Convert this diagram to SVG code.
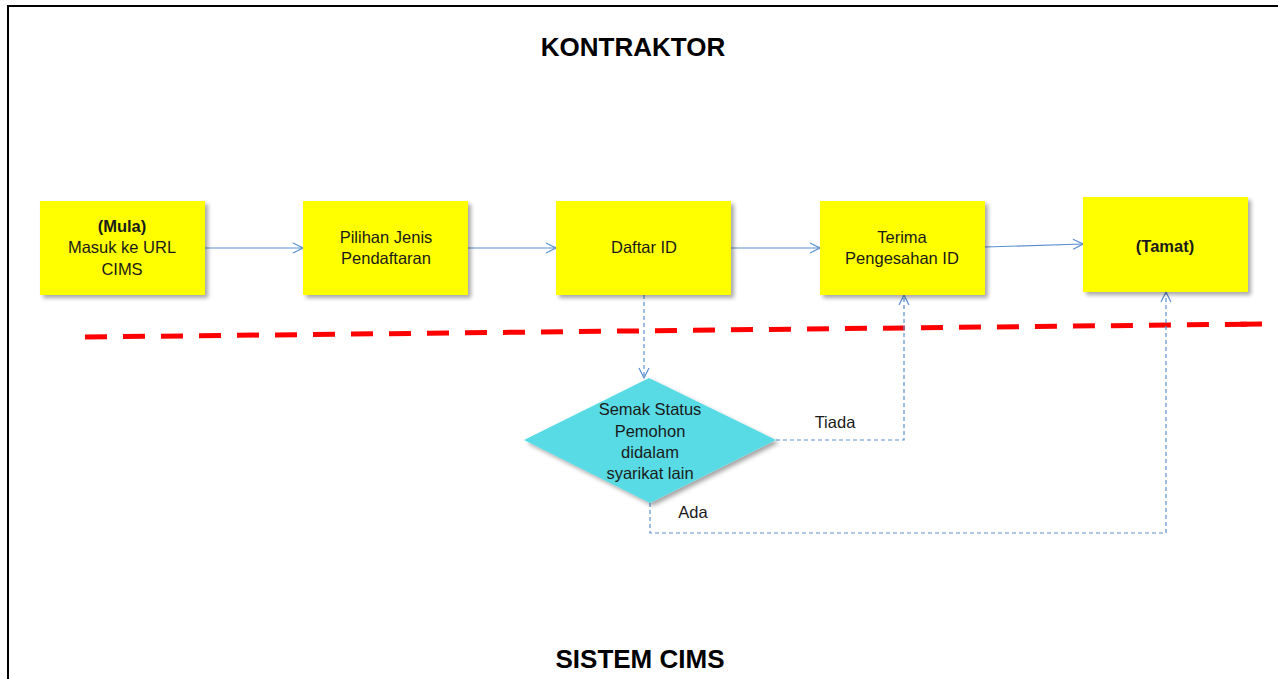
<svg xmlns="http://www.w3.org/2000/svg" width="1278" height="679" viewBox="0 0 1278 679">
<style>
.box{fill:#ffff00;}
.t{font-family:"Liberation Sans",Arial,sans-serif;font-size:16.5px;fill:#1a1a1a;text-anchor:middle;}
.b{font-weight:bold;}
.title{font-family:"Liberation Sans",Arial,sans-serif;font-size:26px;font-weight:bold;fill:#000;text-anchor:middle;}
.solid{fill:none;stroke:#5b8fd0;stroke-width:1.2;}
.dash{fill:none;stroke:#5b8fd0;stroke-width:1.2;stroke-dasharray:4,3;}
</style>
<defs>
<marker id="ah" viewBox="0 0 12 12" refX="11" refY="6" markerWidth="12" markerHeight="12" markerUnits="userSpaceOnUse" orient="auto">
<path d="M1,1 L11,6 L1,11" fill="none" stroke="#5b8fd0" stroke-width="1.2"/>
</marker>
<filter id="sh" x="-10%" y="-10%" width="130%" height="130%">
<feGaussianBlur in="SourceAlpha" stdDeviation="2"/>
<feOffset dx="3" dy="3" result="o"/>
<feComponentTransfer><feFuncA type="linear" slope="0.35"/></feComponentTransfer>
<feMerge><feMergeNode/><feMergeNode in="SourceGraphic"/></feMerge>
</filter>
</defs>
<rect x="0" y="0" width="1278" height="679" fill="#ffffff"/>
<path d="M8,679 L8,6 L1278,6" fill="none" stroke="#000" stroke-width="2"/>
<text class="title" x="633" y="56">KONTRAKTOR</text>
<text class="title" x="640" y="668">SISTEM CIMS</text>
<line x1="85" y1="337" x2="1262" y2="324" stroke="#ff0000" stroke-width="5" stroke-dasharray="22,16"/>
<line x1="1240" y1="324.25" x2="1262" y2="324" stroke="#ff0000" stroke-width="5"/>
<g id="connectors">
<line class="solid" x1="205" y1="248" x2="303" y2="248" marker-end="url(#ah)"/>
<line class="solid" x1="468" y1="248" x2="556" y2="248" marker-end="url(#ah)"/>
<line class="solid" x1="731" y1="248" x2="820" y2="248" marker-end="url(#ah)"/>
<line class="solid" x1="985" y1="247" x2="1083" y2="244" marker-end="url(#ah)"/>
<path class="dash" d="M644,295 L644,378" marker-end="url(#ah)"/>
<path class="dash" d="M776,440 L904,440 L904,295" marker-end="url(#ah)"/>
<path class="dash" d="M650,503 L650,533 L1166,533 L1166,292" marker-end="url(#ah)"/>
<text class="t" x="835" y="428">Tiada</text>
<text class="t" x="693" y="518">Ada</text>
</g>
<g id="n1">
<rect class="box" x="40" y="201" width="165" height="94" filter="url(#sh)"/>
<text class="t b" x="122" y="232">(Mula)</text>
<text class="t" x="122" y="253">Masuk ke URL</text>
<text class="t" x="122" y="275">CIMS</text>
</g>
<g id="n2">
<rect class="box" x="303" y="201" width="165" height="94" filter="url(#sh)"/>
<text class="t" x="386" y="243">Pilihan Jenis</text>
<text class="t" x="386" y="264">Pendaftaran</text>
</g>
<g id="n3">
<rect class="box" x="556" y="201" width="175" height="94" filter="url(#sh)"/>
<text class="t" x="644" y="253">Daftar ID</text>
</g>
<g id="n4">
<rect class="box" x="820" y="201" width="165" height="94" filter="url(#sh)"/>
<text class="t" x="902" y="243">Terima</text>
<text class="t" x="902" y="264">Pengesahan ID</text>
</g>
<g id="n5">
<rect class="box" x="1083" y="197" width="165" height="95" filter="url(#sh)"/>
<text class="t b" x="1165" y="252">(Tamat)</text>
</g>
<g id="d1">
<polygon points="649,378 776,440 650,503 524,440" fill="#59dbe4" filter="url(#sh)"/>
<text class="t" x="650" y="415">Semak Status</text>
<text class="t" x="650" y="437">Pemohon</text>
<text class="t" x="650" y="458">didalam</text>
<text class="t" x="650" y="479">syarikat lain</text>
</g>
</svg>
